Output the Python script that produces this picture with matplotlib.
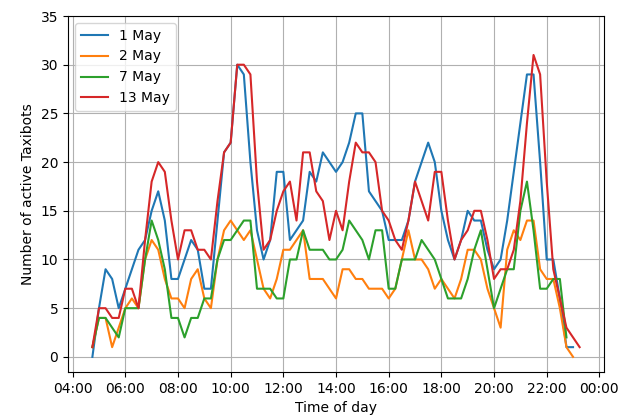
import matplotlib
matplotlib.use('Agg')
import matplotlib.pyplot as plt
import matplotlib.dates as mdates
import numpy as np
from datetime import datetime, timedelta

# counts every 15 minutes, starting 04:45
start = datetime(2019, 5, 1, 4, 45)

may1 = [0, 5, 9, 8, 5, 7, 9, 11, 12, 15, 17, 14, 8, 8, 10, 12, 11, 7, 7, 14,
        21, 22, 30, 29, 20, 13, 10, 12, 19, 19, 12, 13, 14, 19, 18, 21, 20, 19, 20, 22,
        25, 25, 17, 16, 15, 12, 12, 12, 14, 18, 20, 22, 20, 15, 12, 10, 12, 15, 14, 14,
        11, 9, 10, 14, 19, 24, 29, 29, 20, 10, 10, 6, 1, 1]
may2 = [1, 4, 4, 1, 3, 5, 6, 5, 10, 12, 11, 8, 6, 6, 5, 8, 9, 6, 5, 10,
        13, 14, 13, 12, 13, 10, 7, 6, 8, 11, 11, 12, 13, 8, 8, 8, 7, 6, 9, 9,
        8, 8, 7, 7, 7, 6, 7, 10, 13, 10, 10, 9, 7, 8, 7, 6, 8, 11, 11, 10,
        7, 5, 3, 11, 13, 12, 14, 14, 9, 8, 8, 5, 1, 0]
may7 = [1, 4, 4, 3, 2, 5, 5, 5, 10, 14, 12, 9, 4, 4, 2, 4, 4, 6, 6, 10,
        12, 12, 13, 14, 14, 7, 7, 7, 6, 6, 10, 10, 13, 11, 11, 11, 10, 10, 11, 14,
        13, 12, 10, 13, 13, 7, 7, 10, 10, 10, 12, 11, 10, 8, 6, 6, 6, 8, 11, 13,
        9, 5, 7, 9, 9, 15, 18, 13, 7, 7, 8, 8, 2]
may13 = [1, 5, 5, 4, 4, 7, 7, 5, 12, 18, 20, 19, 14, 10, 13, 13, 11, 11, 10, 16,
         21, 22, 30, 30, 29, 18, 11, 12, 15, 17, 18, 14, 21, 21, 17, 16, 12, 15, 13, 18,
         22, 21, 21, 20, 15, 14, 12, 11, 14, 18, 16, 14, 19, 19, 14, 10, 12, 13, 15, 15,
         12, 8, 9, 9, 11, 16, 24, 31, 29, 18, 9, 6, 3, 2, 1]

series = [('1 May', may1), ('2 May', may2), ('7 May', may7), ('13 May', may13)]

fig, ax = plt.subplots(figsize=(6.27, 4.19), dpi=100)
fig.subplots_adjust(left=0.1085, right=0.9633, bottom=0.1122, top=0.9618)

for label, vals in series:
    times = [start + timedelta(minutes=15 * k) for k in range(len(vals))]
    ax.plot(times, vals, label=label)

ax.set_ylim(top=35)
ax.xaxis.set_major_locator(mdates.HourLocator(byhour=range(0, 24, 2)))
ax.xaxis.set_major_formatter(mdates.DateFormatter('%H:%M'))
ax.grid(True)
ax.legend(loc='upper left')
ax.set_xlabel('Time of day')
ax.set_ylabel('Number of active Taxibots')

fig.savefig('out.png', dpi=100)
